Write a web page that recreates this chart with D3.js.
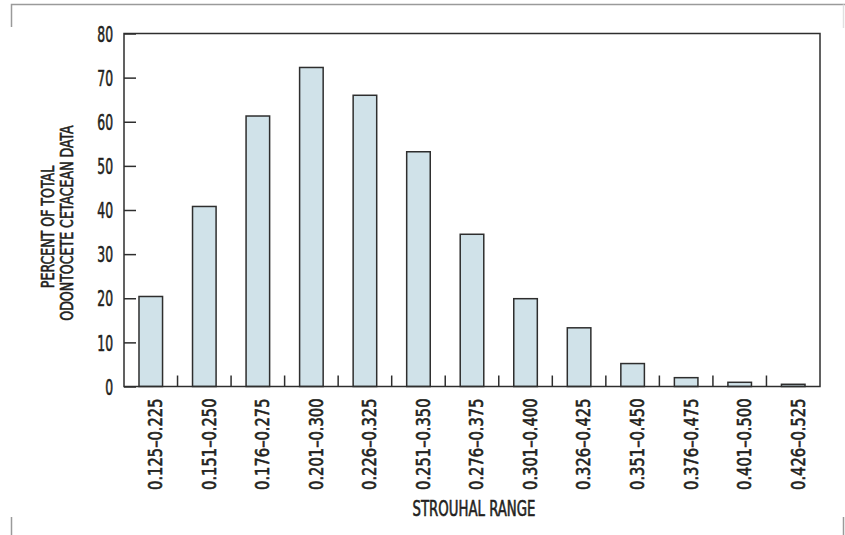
<!DOCTYPE html>
<html>
<head>
<meta charset="utf-8">
<script src="https://cdn.jsdelivr.net/npm/d3@7"></script>
<style>
  body { margin: 0; background: #fff; }
  svg text { font-family: "DejaVu Sans Condensed", "Liberation Sans Narrow", sans-serif;
    fill: #231f20; stroke: #231f20; stroke-width: 0.6px; }
</style>
</head>
<body>
<svg id="chart" width="845" height="535"></svg>
<script>
// strouhal bins and share of odontocete data (%)
var ranges = ["0.125–0.225", "0.151–0.250", "0.176–0.275", "0.201–0.300", "0.226–0.325",
    "0.251–0.350", "0.276–0.375", "0.301–0.400", "0.326–0.425", "0.351–0.450",
    "0.376–0.475", "0.401–0.500", "0.426–0.525"];
var percents = [20.4, 40.8, 61.3, 72.3, 66.0, 53.2, 34.5, 19.9, 13.3, 5.2, 2.0, 0.95, 0.5];
var yTicks = [0, 10, 20, 30, 40, 50, 60, 70, 80];

var pL = 124, pR = 820, pT = 33.5, pB = 386.5;
var svg = d3.select("#chart");

// outer frame corners (light gray)
var frame = svg.append("g").attr("stroke", "#9a9a9a").attr("stroke-width", 1.5).attr("fill", "none");
frame.append("path").attr("d", "M11.5,27 V4.5 H845");
frame.append("path").attr("d", "M843.5,4.5 V28").attr("stroke", "#e0e0e0");
frame.append("path").attr("d", "M11.5,517 V535");
frame.append("path").attr("d", "M843.5,517 V535");

var x = d3.scaleBand().domain(ranges).range([pL, pR])
    .paddingInner(0.56).paddingOuter(0.28);
var y = d3.scaleLinear().domain([0, 80]).range([pB, pT]);

// bars
svg.append("g").selectAll("rect").data(percents).enter().append("rect")
    .attr("x", function(d, i) { return x(ranges[i]); })
    .attr("y", function(d) { return y(d); })
    .attr("width", x.bandwidth())
    .attr("height", function(d) { return y(0) - y(d); })
    .attr("fill", "#d0e2e9")
    .attr("stroke", "#2e2e2e")
    .attr("stroke-width", 1.5);

// plot box
svg.append("rect").attr("x", pL).attr("y", pT)
    .attr("width", pR - pL).attr("height", pB - pT)
    .attr("fill", "none").attr("stroke", "#2e2e2e").attr("stroke-width", 1.5);

// y axis, ticks pointing inward
var sqY = 0.64;
var yAxis = svg.append("g").attr("transform", "translate(" + pL + ",0)")
    .call(d3.axisLeft(y).tickValues(yTicks).tickSize(-12).tickPadding(11));
yAxis.select(".domain").remove();
yAxis.selectAll("line").attr("stroke", "#2e2e2e").attr("stroke-width", 1.5);
yAxis.selectAll("text").attr("font-size", 21.5).attr("dy", "0.36em")
    .attr("x", -11 / sqY).attr("transform", "scale(" + sqY + ",1)")
    .attr("font-family", null);

// x boundary ticks between bins
svg.append("g").selectAll("line").data(ranges.slice(0, -1)).enter().append("line")
    .attr("x1", function(d) { return x(d) + x.bandwidth() / 2 + x.step() / 2; })
    .attr("x2", function(d) { return x(d) + x.bandwidth() / 2 + x.step() / 2; })
    .attr("y1", pB).attr("y2", pB - 11)
    .attr("stroke", "#2e2e2e").attr("stroke-width", 1.5);

// x labels, rotated
var sqX = 0.86;
var xAxis = svg.append("g").attr("transform", "translate(0," + pB + ")")
    .call(d3.axisBottom(x).tickSize(0).tickPadding(0));
xAxis.select(".domain").remove();
xAxis.selectAll("text")
    .attr("font-size", 19)
    .attr("font-family", null)
    .attr("text-anchor", "end")
    .attr("transform", "rotate(-90) scale(" + sqX + ",1)")
    .attr("x", -12 / sqX).attr("y", 0).attr("dx", 0).attr("dy", "0.6em");

// axis titles
svg.append("text").attr("transform", "translate(" + ((pL + pR) / 2 + 2) + ",516) scale(0.72,1)")
    .attr("text-anchor", "middle").attr("font-size", 20.5).text("STROUHAL RANGE");

var yt = svg.append("g").attr("transform", "translate(53.5,223) rotate(-90) scale(0.8,1)");
yt.append("text").attr("text-anchor", "middle").attr("font-size", 17.5).attr("x", -5)
    .text("PERCENT OF TOTAL");
yt.append("text").attr("text-anchor", "middle").attr("font-size", 17.5).attr("y", 20)
    .text("ODONTOCETE CETACEAN DATA");
</script>
</body>
</html>
